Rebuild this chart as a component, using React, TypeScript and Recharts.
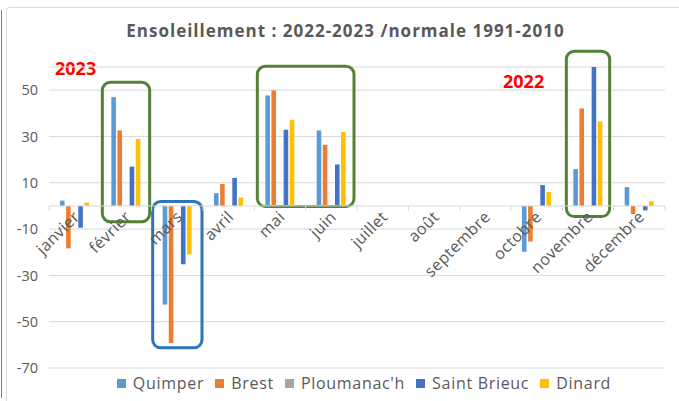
import React from 'react';
import { BarChart, Bar, XAxis, YAxis, CartesianGrid, ReferenceLine, ReferenceArea, Legend } from 'recharts';

const months = ['janvier', 'février', 'mars', 'avril', 'mai', 'juin', 'juillet', 'août', 'septembre', 'octobre', 'novembre', 'décembre'];
const quimper = [2.3, 47, -42.6, 5.5, 47.7, 32.6, null, null, null, -19.8, 15.9, 8.1];
const brest = [-18.3, 32.6, -59.2, 9.5, 49.9, 26.4, null, null, null, -15.4, 42.1, -3.5];
const ploumanach = [null, null, null, null, null, null, null, null, null, null, null, null];
const saintBrieuc = [-9.4, 17, -25.2, 12.1, 32.9, 17.9, null, null, null, 9, 60.3, -1.9];
const dinard = [1.4, 28.9, -20.9, 3.6, 37.2, 32, null, null, null, 6, 36.5, 2];
const yTicks = [50, 30, 10, -10, -30, -50, -70];

const data = months.map((m, i) => ({
  month: m,
  Quimper: quimper[i],
  Brest: brest[i],
  "Ploumanac'h": ploumanach[i],
  'Saint Brieuc': saintBrieuc[i],
  Dinard: dinard[i],
}));

const series = [
  { key: 'Quimper', color: '#5B9BD5' },
  { key: 'Brest', color: '#ED7D31' },
  { key: "Ploumanac'h", color: '#A5A5A5' },
  { key: 'Saint Brieuc', color: '#4472C4' },
  { key: 'Dinard', color: '#FFC000' },
];

const W = 679;
const H = 401;
const Y_MIN = -70;
const Y_MAX = 60;
const X_AXIS_H = 30;
const M = { top: 67, right: 14, bottom: 3, left: 0 };
const PLOT_H = H - M.top - M.bottom - X_AXIS_H;
const PLOT_W = W - M.left - M.right - 49;
const ZERO_Y = M.top + (PLOT_H * Y_MAX) / (Y_MAX - Y_MIN);
const BAND = PLOT_W / months.length;
const FONT = '"Open Sans", "Liberation Sans", sans-serif';
const GREY = '#595959';

// month labels sit on the zero line, not at the bottom of the plot
const MonthTick = (props: any) => {
  const { x, payload, index } = props;
  const tx = x + 6;
  const ty = ZERO_Y + 12;
  return (
    <g>
      <line x1={x - BAND / 2} x2={x - BAND / 2} y1={ZERO_Y} y2={ZERO_Y + 5} stroke="#d9d9d9" />
      {index === months.length - 1 && (
        <line x1={x + BAND / 2} x2={x + BAND / 2} y1={ZERO_Y} y2={ZERO_Y + 5} stroke="#d9d9d9" />
      )}
      <text
        x={tx}
        y={ty}
        textAnchor="end"
        transform={`rotate(-45 ${tx} ${ty})`}
        fill={GREY}
        fontSize={16}
        letterSpacing={0.4}
        fontFamily={FONT}
      >
        {payload.value}
      </text>
    </g>
  );
};

const boxShape = (color: string, inset: number) => (p: any) => (
  <rect
    x={p.x + inset}
    y={p.y}
    width={p.width - inset * 2}
    height={p.height}
    rx={8}
    ry={8}
    fill="none"
    stroke={color}
    strokeWidth={3}
  />
);

const LegendContent = () => (
  <div style={{ display: 'flex', justifyContent: 'center', fontFamily: FONT, fontSize: 16, letterSpacing: 0.7, color: GREY }}>
    {series.map((s) => (
      <div key={s.key} style={{ display: 'flex', alignItems: 'center', marginRight: 11 }}>
        <span style={{ width: 9, height: 9, background: s.color, marginRight: 7, display: 'inline-block' }} />
        <span>{s.key}</span>
      </div>
    ))}
  </div>
);

export default function App() {
  return (
    <div style={{ position: 'fixed', left: 0, top: 0, width: W, height: H, background: '#fff', overflow: 'hidden' }}>
      <div style={{ position: 'absolute', left: 1, top: 10, width: 1, height: 388, background: '#7f7f7f' }} />
      <div style={{ position: 'absolute', left: 6, top: 7, width: 690, height: 400, border: '1px solid #d9d9d9', borderRadius: 3 }} />
      <div
        style={{
          position: 'absolute', left: 0, width: 691, top: 19, textAlign: 'center',
          fontFamily: FONT, fontWeight: 700, fontSize: 17, letterSpacing: 1, color: GREY,
        }}
      >
        Ensoleillement : 2022-2023 /normale 1991-2010
      </div>
      <div style={{ position: 'absolute', left: 55, top: 56, fontFamily: FONT, fontWeight: 700, fontSize: 18, color: '#FF0000' }}>2023</div>
      <div style={{ position: 'absolute', left: 503, top: 69, fontFamily: FONT, fontWeight: 700, fontSize: 18, color: '#FF0000' }}>2022</div>
      <div style={{ position: 'absolute', left: 0, top: 0 }}>
        <BarChart width={W} height={H} data={data} margin={M} barSize={4.6} barGap={1.5}>
          <CartesianGrid vertical={false} stroke="#d9d9d9" />
          <YAxis
            type="number"
            domain={[Y_MIN, Y_MAX]}
            ticks={yTicks}
            interval={0}
            width={49}
            axisLine={false}
            tickLine={false}
            tickMargin={5}
            tick={{ fill: GREY, fontSize: 14.5, fontFamily: FONT }}
            allowDataOverflow
          />
          <XAxis
            dataKey="month"
            height={X_AXIS_H}
            axisLine={false}
            tickLine={false}
            interval={0}
            tick={(p: any) => <MonthTick {...p} />}
          />
          <ReferenceLine y={0} stroke="#d9d9d9" />
          {series.map((s) => (
            <Bar key={s.key} dataKey={s.key} fill={s.color} isAnimationActive={false} />
          ))}
          <ReferenceArea x1="février" x2="février" y1={-6.8} y2={53.4} ifOverflow="visible" shape={boxShape('#548235', 2)} />
          <ReferenceArea x1="mai" x2="juin" y1={-0.3} y2={60.3} ifOverflow="visible" shape={boxShape('#548235', 3)} />
          <ReferenceArea x1="mars" x2="mars" y1={-61.3} y2={1.9} ifOverflow="visible" shape={boxShape('#2E75B6', 1)} />
          <ReferenceArea x1="novembre" x2="novembre" y1={-4.6} y2={66.8} ifOverflow="visible" shape={boxShape('#548235', 4)} />
          <Legend
            layout="horizontal"
            verticalAlign="middle"
            align="center"
            wrapperStyle={{ top: 372, left: 30, width: W }}
            content={<LegendContent />}
          />
        </BarChart>
      </div>
    </div>
  );
}
